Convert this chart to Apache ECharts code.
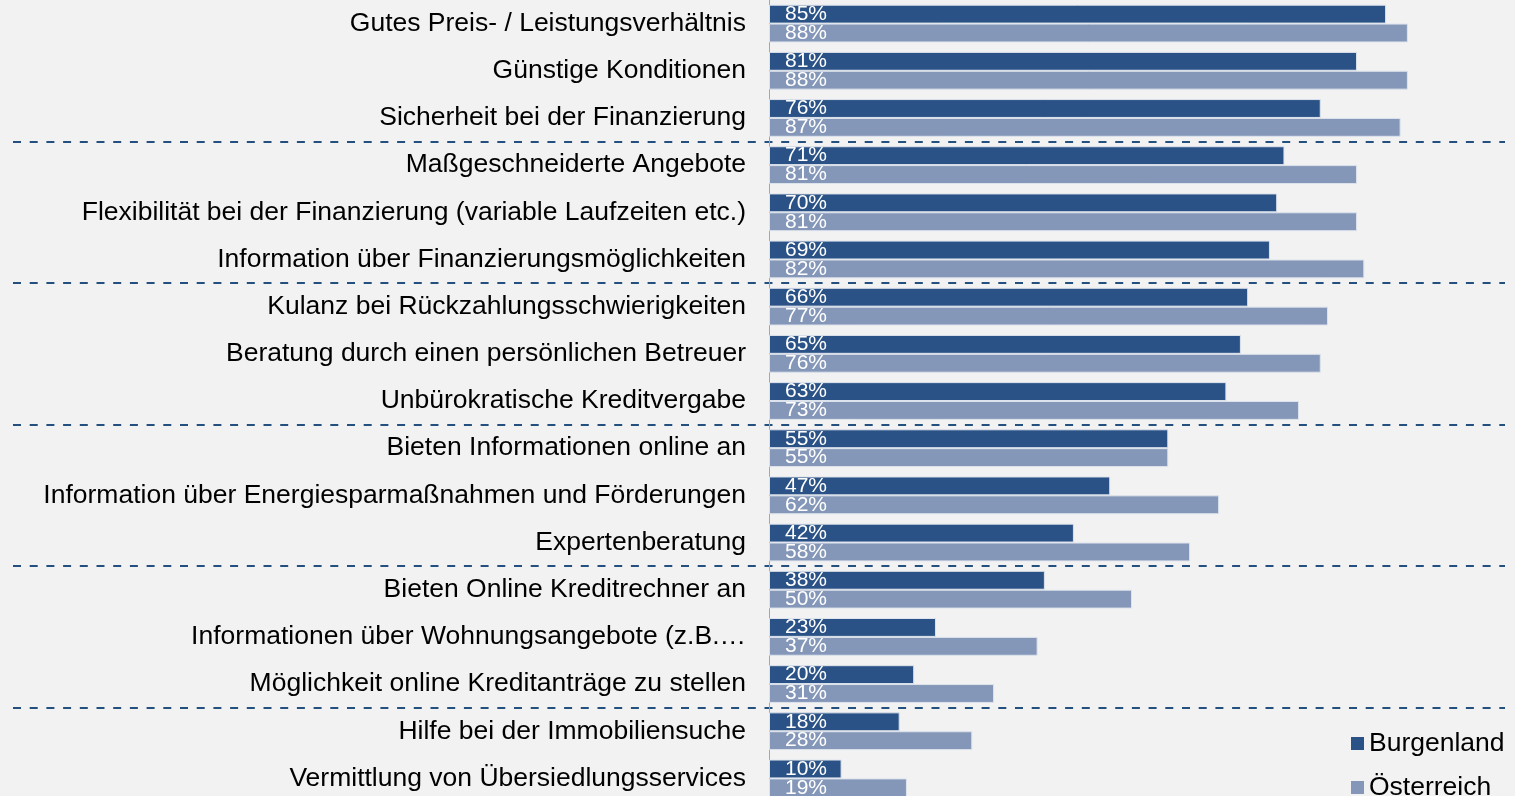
<!DOCTYPE html>
<html>
<head>
<meta charset="utf-8" />
<title>Wichtige Eigenschaften</title>
<script src="https://cdn.jsdelivr.net/npm/echarts@6/dist/echarts.min.js"></script>
<style>
  html, body { margin: 0; padding: 0; background: #f2f2f2; }
  #main { width: 1515px; height: 796px; }
</style>
</head>
<body>
<div id="main"></div>
<script>
var categories = [
  'Gutes Preis- / Leistungsverhältnis',
  'Günstige Konditionen',
  'Sicherheit bei der Finanzierung',
  'Maßgeschneiderte Angebote',
  'Flexibilität bei der Finanzierung (variable Laufzeiten etc.)',
  'Information über Finanzierungsmöglichkeiten',
  'Kulanz bei Rückzahlungsschwierigkeiten',
  'Beratung durch einen persönlichen Betreuer',
  'Unbürokratische Kreditvergabe',
  'Bieten Informationen online an',
  'Information über Energiesparmaßnahmen und Förderungen',
  'Expertenberatung',
  'Bieten Online Kreditrechner an',
  'Informationen über Wohnungsangebote (z.B.…',
  'Möglichkeit online Kreditanträge zu stellen',
  'Hilfe bei der Immobiliensuche',
  'Vermittlung von Übersiedlungsservices'
];
var burgenland = [85, 81, 76, 71, 70, 69, 66, 65, 63, 55, 47, 42, 38, 23, 20, 18, 10];
var oesterreich = [88, 88, 87, 81, 81, 82, 77, 76, 73, 55, 62, 58, 50, 37, 31, 28, 19];

var font = 'Liberation Sans, Arial, sans-serif';

function barLabel() {
  return {
    show: true,
    position: 'insideLeft',
    distance: 16,
    color: '#fff',
    fontSize: 21,
    fontFamily: font,
    formatter: '{c}%'
  };
}

// two legends, one per row, so the second may run off the bottom like in the original
function legendBox(name, top) {
  return {
    orient: 'vertical',
    left: 1346,
    top: top,
    icon: 'rect',
    itemWidth: 13,
    itemHeight: 13,
    itemStyle: { borderWidth: 0 },
    data: [name],
    textStyle: { fontSize: 26.5, fontFamily: font, color: '#000' }
  };
}

var option = {
  backgroundColor: '#f2f2f2',
  animation: false,
  legend: [legendBox('Burgenland', 725), legendBox('Österreich', 769)],
  grid: [
    { left: 769, width: 726, top: 0, height: 802, outerBoundsMode: 'none' },
    { left: 13, right: 10, top: 0, height: 802, outerBoundsMode: 'none' }
  ],
  xAxis: [
    { type: 'value', min: 0, max: 100, show: false, gridIndex: 0 },
    { type: 'value', min: 0, max: 100, show: false, gridIndex: 1 }
  ],
  yAxis: [
    {
      type: 'category',
      gridIndex: 0,
      inverse: true,
      data: categories,
      axisLine: { show: true, lineStyle: { color: '#a6a6a6', width: 1 } },
      axisTick: { show: false },
      axisLabel: { fontSize: 26.5, fontFamily: font, color: '#000', margin: 23 },
      splitLine: { show: false }
    },
    {
      // nur für die gestrichelten Trennlinien über die ganze Breite
      type: 'category',
      gridIndex: 1,
      inverse: true,
      data: categories,
      axisLine: { show: false },
      axisTick: { show: false },
      axisLabel: { show: false },
      splitLine: {
        show: true,
        interval: function (i) { return i > 0 && i % 3 === 0 && i < 17; },
        lineStyle: { color: '#24507f', width: 2, type: [8, 8.7] }
      }
    }
  ],
  series: [
    {
      name: 'Burgenland',
      type: 'bar',
      xAxisIndex: 0,
      yAxisIndex: 0,
      data: burgenland,
      barCategoryGap: '20%',
      barGap: '0%',
      itemStyle: { color: '#2a5286', borderColor: '#dde3ec', borderWidth: 1 },
      label: barLabel(),
      z: 3
    },
    {
      name: 'Österreich',
      type: 'bar',
      xAxisIndex: 0,
      yAxisIndex: 0,
      data: oesterreich,
      barCategoryGap: '20%',
      barGap: '0%',
      itemStyle: { color: '#8497b8', borderColor: '#dde3ec', borderWidth: 1 },
      label: barLabel(),
      z: 3
    },
    {
      name: 'trenner',
      type: 'bar',
      xAxisIndex: 1,
      yAxisIndex: 1,
      data: [],
      silent: true
    }
  ]
};

var myChart = echarts.init(document.getElementById('main'));
myChart.setOption(option);
</script>
</body>
</html>
